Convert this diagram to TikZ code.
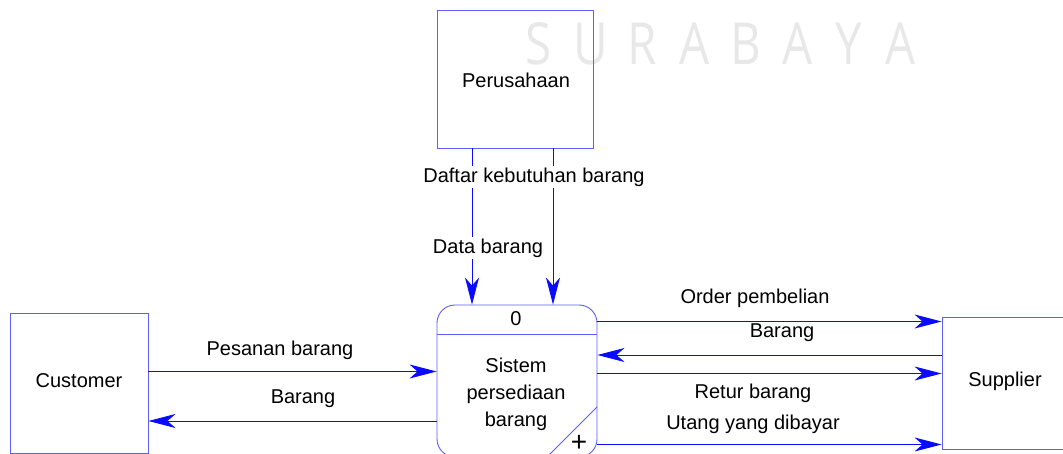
\documentclass[tikz,border=0pt]{standalone}
\usepackage{fontspec}
\setmainfont{Liberation Sans}
\newfontfamily\wmfont{Open Sans}
\usetikzlibrary{arrows.meta}
\definecolor{boxblue}{RGB}{95,95,255}
\definecolor{lineblue}{RGB}{10,10,255}
\definecolor{wmgray}{RGB}{232,232,232}
\begin{document}
\begin{tikzpicture}[x=1pt,y=-1pt,
  every node/.style={font=\fontsize{20}{22}\selectfont, inner sep=1pt},
  ent/.style={draw=boxblue, line width=0.9pt, fill=none},
  flow/.style={draw=lineblue, line width=0.9pt, -{Stealth[length=27pt,width=14pt,inset=8pt]}},
  lbl/.style={fill=white, inner sep=1.5pt},
  wm/.style={text=wmgray, font=\wmfont\fontsize{58}{60}\selectfont, anchor=base, xscale=0.82, inner sep=0pt}]
\clip (0,0) rectangle (1063,454);
\fill[white] (0,0) rectangle (1063,454);
% watermark
\foreach \L [count=\i from 0] in {S,U,R,A,B,A,Y,A}
  \node[wm] (wm\i) at (539+51.7*\i,65) {\L};
% entities
\node[ent, minimum width=156pt, minimum height=138pt] (per) at (515,79) {};
\node (pertxt) at (516,80) {Perusahaan};
\node[ent, minimum width=138pt, minimum height=140pt] (cust) at (79,383) {};
\node (custtxt) at (79,381) {Customer};
\node[ent, minimum width=124pt, minimum height=132pt] (sup) at (1004,383) {};
\node (suptxt) at (1005,381) {Supplier};
% process
\node[draw=boxblue, line width=0.9pt, rounded corners=18pt, minimum width=160pt, minimum height=152pt] (proc) at (517,381) {};
\coordinate (divL) at (437,334);
\coordinate (divR) at (597,334);
\draw[boxblue, line width=0.9pt] (proc.west |- divL) -- (proc.east |- divR);
\coordinate (dg1) at (597,407);
\coordinate (dg2) at (550,454);
\draw[boxblue, line width=0.8pt] (dg1) -- (dg2);
\node (pid) at (516,319) {0};
\node[align=center, font=\fontsize{20}{27}\selectfont] (pname) at (516,394) {Sistem\\persediaan\\barang};
\node[font=\fontsize{28}{28}\selectfont] (plus) at (579,443) {+};
% helper coordinates
\coordinate (vL) at (472,0);
\coordinate (vR) at (553,0);
\coordinate (hPes) at (0,371.5);
\coordinate (hBc) at (0,421);
\coordinate (hOrd) at (0,321.5);
\coordinate (hBs) at (0,355);
\coordinate (hRet) at (0,373.5);
\coordinate (hUt) at (0,444.5);
% flows
\draw[flow] (per.south -| vL) -- (proc.north -| vL);
\draw[flow] (per.south -| vR) -- (proc.north -| vR);
\draw[flow] (cust.east |- hPes) -- (proc.west |- hPes);
\draw[flow] (proc.west |- hBc) -- (cust.east |- hBc);
\draw[flow] (proc.east |- hOrd) -- (sup.west |- hOrd);
\draw[flow] (sup.west |- hBs) -- (proc.east |- hBs);
\draw[flow] (proc.east |- hRet) -- (sup.west |- hRet);
\draw[flow] (proc.east |- hUt) -- (sup.west |- hUt);
% labels
\node[lbl] (l1) at (534,177) {Daftar kebutuhan barang};
\node[lbl] (l2) at (488,248) {Data barang};
\node (l3) at (280,350) {Pesanan barang};
\node (l4) at (303,399) {Barang};
\node (l5) at (755,298) {Order pembelian};
\node (l6) at (782,333) {Barang};
\node (l7) at (753,393) {Retur barang};
\node (l8) at (753,424) {Utang yang dibayar};
\end{tikzpicture}
\end{document}
